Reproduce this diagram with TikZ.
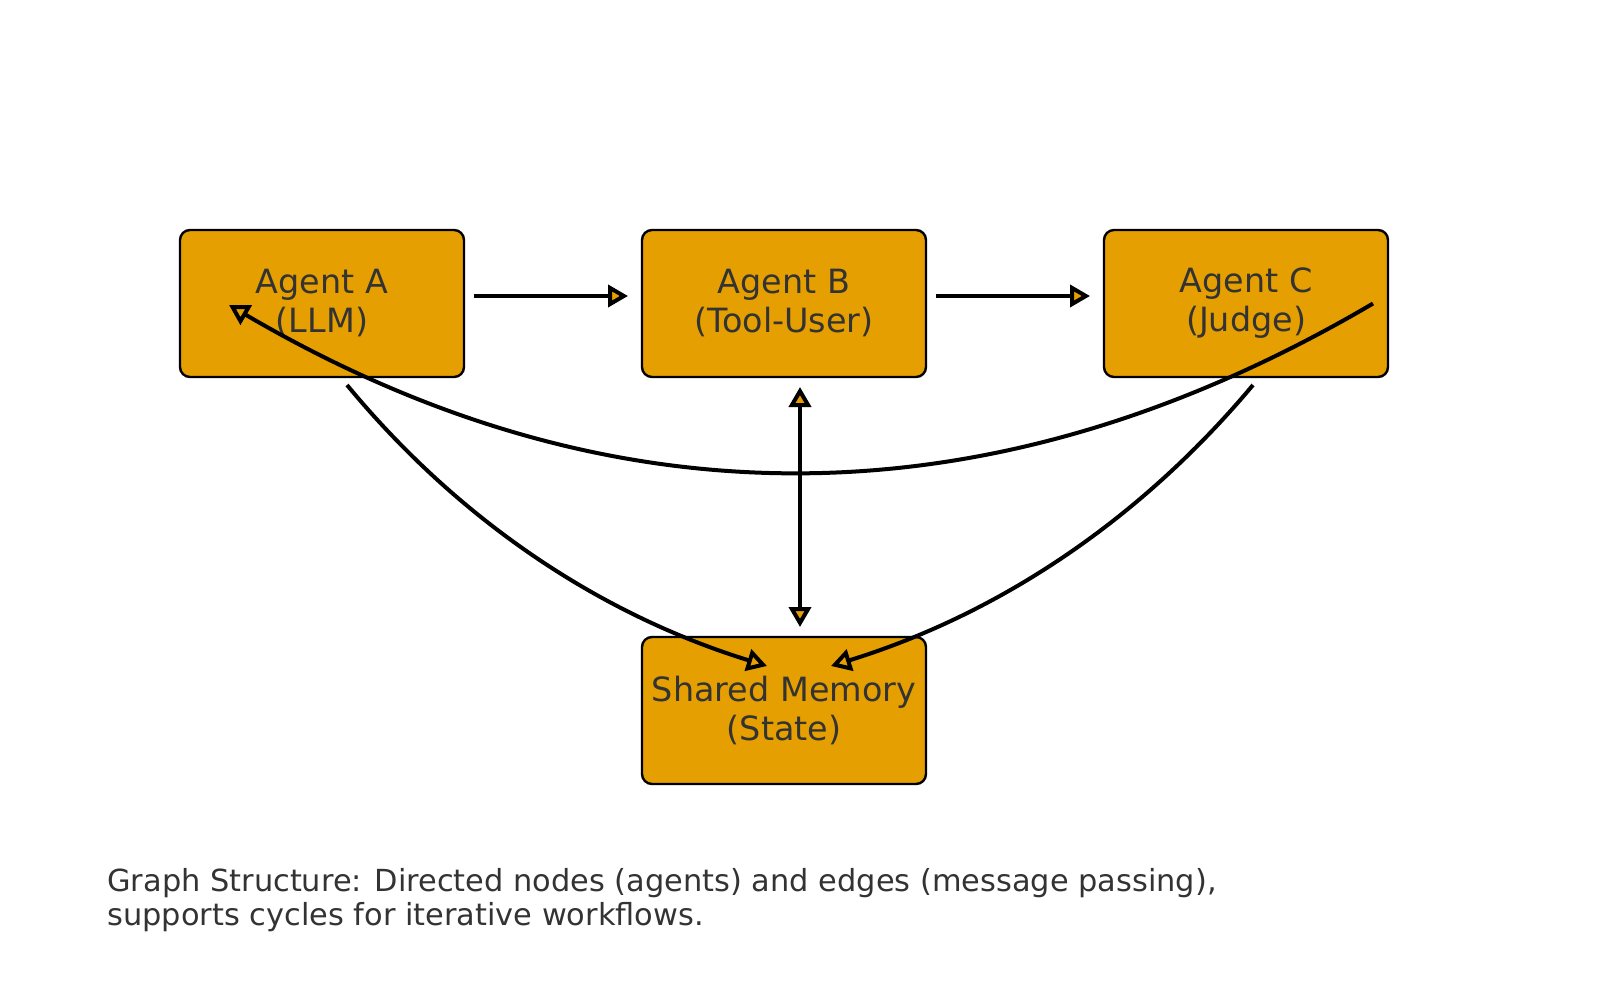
\documentclass[tikz,border=0pt]{standalone}
\usepackage{fontspec}
\setmainfont{DejaVu Sans}
\usepackage{tikz}
\usetikzlibrary{arrows.meta,calc}
\usetikzlibrary{positioning}
\definecolor{agentorange}{HTML}{E69F00}
\definecolor{textgray}{HTML}{333333}
\tikzstyle{agent} = [rectangle, rounded corners=5pt, minimum width=142pt, minimum height=73.5pt, inner sep=0pt, outer sep=0pt, align=center, draw=black, line width=1.2pt, fill=agentorange, text=textgray, font=\fontsize{16.7}{19.5}\selectfont]
\tikzstyle{link} = [line width=2pt, >={Triangle[open, fill=agentorange, length=10pt, width=11pt]}]

\begin{document}
\begin{tikzpicture}[x=0.5pt, y=-0.5pt, node distance=130pt and 89pt]
\useasboundingbox (0,0) rectangle (1600,1000);

\node (agentA) [agent] at (322,303.5) {Agent A\\(LLM)};
\node (agentB) [agent, right=of agentA] {Agent B\\(Tool-User)};
\node (agentC) [agent, right=of agentB] {Agent C\\(Judge)};
\node (memory) [agent, below=of agentB] {Shared Memory\\(State)};

\node (caption) [anchor=north west, align=left, inner sep=0pt, text=textgray, font=\fontsize{15.2}{17}\selectfont] at (107,868) {Graph Structure: Directed nodes (agents) and edges (message passing),\\supports cycles for iterative workflows.};

% straight links
\draw[link, ->] ([shift={(10,-7.5)}]agentA.east) -- ([shift={(-14,-7.5)}]agentB.west);
\draw[link, ->] ([shift={(10,-7.5)}]agentB.east) -- ([shift={(-14,-7.5)}]agentC.west);
\draw[link, <->] ([shift={(16,10)}]agentB.south) -- ([shift={(16,-10)}]memory.north);

% curved links
\coordinate (cOut) at ([shift={(-15,0)}]agentC.east);
\coordinate (aIn) at ([shift={(49,1.5)}]agentA.west);
\coordinate (loopQ) at ($(agentB.south)+(17,263)$);
\draw[link, ->] (cOut) .. controls ($(cOut)!2/3!(loopQ)$) and ($(aIn)!2/3!(loopQ)$) .. (aIn);

\coordinate (aOut) at ([shift={(25,8)}]agentA.south);
\coordinate (memL) at ([shift={(-17,29)}]memory.north);
\coordinate (leftQ) at ($(memory.north)+(-269,-49)$);
\draw[link, ->] (aOut) .. controls ($(aOut)!2/3!(leftQ)$) and ($(memL)!2/3!(leftQ)$) .. (memL);

\coordinate (cDown) at ([shift={(7,8)}]agentC.south);
\coordinate (memR) at ([shift={(47,29)}]memory.north);
\coordinate (rightQ) at ($(memory.north)+(299,-49)$);
\draw[link, ->] (cDown) .. controls ($(cDown)!2/3!(rightQ)$) and ($(memR)!2/3!(rightQ)$) .. (memR);
\end{tikzpicture}
\end{document}
